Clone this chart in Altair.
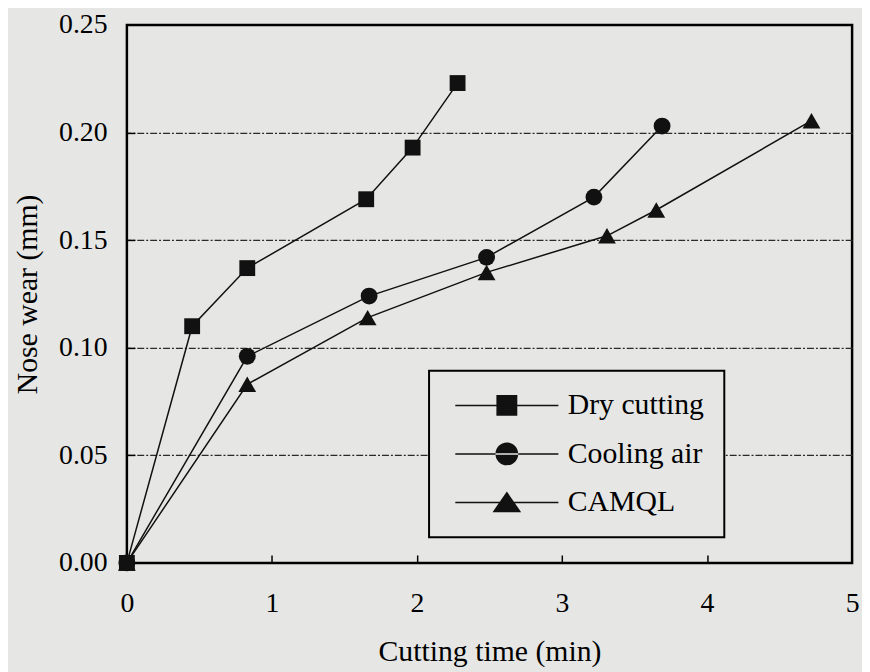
import altair as alt
import pandas as pd

# ---- data ----
legend_order = ["Dry cutting", "Cooling air", "CAMQL"]

dry_x = [0, 0.45, 0.83, 1.65, 1.97, 2.28]
dry_y = [0, 0.110, 0.137, 0.169, 0.193, 0.223]

air_x = [0, 0.83, 1.67, 2.48, 3.22, 3.69]
air_y = [0, 0.096, 0.124, 0.142, 0.170, 0.203]

camql_x = [0, 0.83, 1.66, 2.48, 3.31, 3.65, 4.72]
camql_y = [0, 0.083, 0.114, 0.135, 0.152, 0.164, 0.2055]

x_tick_values = [0, 1, 2, 3, 4, 5]
y_tick_values = [0, 0.05, 0.10, 0.15, 0.20, 0.25]
x_inner_ticks = [1, 2, 3, 4]
y_grid_values = [0.05, 0.10, 0.15, 0.20]

rows = []
for name, xs, ys in [("Cooling air", air_x, air_y),
                     ("CAMQL", camql_x, camql_y),
                     ("Dry cutting", dry_x, dry_y)]:
    for i, (a, b) in enumerate(zip(xs, ys)):
        rows.append({"series": name, "t": a, "wear": b, "idx": i})
df = pd.DataFrame(rows)

FONT = "Liberation Serif"
BG = "#e6e7e5"
W, H = 732, 543

xscale = alt.Scale(domain=[0, 5], nice=False, zero=False)
yscale = alt.Scale(domain=[0, 0.25], nice=False, zero=False)

main_x_axis = alt.Axis(values=x_tick_values, format="d", labelFlush=False,
                       ticks=False, domain=False, grid=False,
                       labelFont=FONT, labelFontSize=28, labelColor="black",
                       labelPadding=27, title="Cutting time (min)",
                       titleFont=FONT, titleFontSize=30, titleFontWeight="normal",
                       titleColor="black", titlePadding=20)
main_y_axis = alt.Axis(values=y_tick_values, format=".2f", labelFlush=False,
                       ticks=False, domain=False, grid=False,
                       labelFont=FONT, labelFontSize=28, labelColor="black",
                       labelPadding=20, title="Nose wear (mm)",
                       titleFont=FONT, titleFontSize=30, titleFontWeight="normal",
                       titleColor="black", titlePadding=16)

inner_x_axis = alt.Axis(orient="top", offset=-H, values=x_inner_ticks,
                        labels=False, domain=False, grid=False, ticks=True,
                        tickSize=8, tickWidth=1.5, tickColor="black", title=None)
inner_y_axis = alt.Axis(orient="right", offset=-W, values=y_grid_values,
                        labels=False, domain=False, grid=True, ticks=True,
                        tickSize=8, tickWidth=1.5, tickColor="black",
                        gridColor="#2a2a2a", gridWidth=1.2,
                        gridDash=[7, 2, 2, 2], title=None)

lines = alt.Chart(df).mark_line(color="#111111", strokeWidth=1.5).encode(
    x=alt.X("t:Q", scale=xscale, axis=main_x_axis),
    y=alt.Y("wear:Q", scale=yscale, axis=main_y_axis),
    detail="series:N",
    order="idx:Q",
)

points = alt.Chart(df).mark_point(filled=True, color="#111111", opacity=1).encode(
    x=alt.X("t:Q", scale=xscale, axis=inner_x_axis),
    y=alt.Y("wear:Q", scale=yscale, axis=inner_y_axis),
    shape=alt.Shape("series:N",
                    scale=alt.Scale(domain=legend_order,
                                    range=["square", "circle", "triangle-up"]),
                    legend=None),
    size=alt.Size("series:N",
                  scale=alt.Scale(domain=legend_order, range=[256, 324, 420]),
                  legend=None),
)

# legend symbols: thin bar (the line) plus marker, as filled custom paths
# (unit = sqrt(size)/2 = 8.5 px)
bar = "M-1,-0.09H11.24V0.09H-1Z"
sq_path = bar + "M3.88,-1.24H6.36V1.24H3.88Z"
ci_path = bar + "M3.77,0A1.35,1.35,0,1,0,6.47,0A1.35,1.35,0,1,0,3.77,0Z"
tr_path = bar + "M5.12,-1.3L6.82,1.15L3.42,1.15Z"

legend_layer = alt.Chart(df).mark_point(
    filled=True, color="#111111", opacity=0, size=289
).encode(
    x=alt.X("t:Q", scale=xscale, axis=None),
    y=alt.Y("wear:Q", scale=yscale, axis=None),
    shape=alt.Shape("series:N",
                    scale=alt.Scale(domain=legend_order,
                                    range=[sq_path, ci_path, tr_path]),
                    legend=alt.Legend(orient="none", legendX=305, legendY=349,
                                      title=None, padding=20,
                                      strokeColor="black", fillColor=BG,
                                      symbolSize=289, symbolStrokeWidth=0,
                                      symbolFillColor="#111111",
                                      symbolOpacity=1,
                                      labelFont=FONT, labelFontSize=30,
                                      labelColor="black", labelLimit=0,
                                      labelOffset=90, rowPadding=19)),
)

chart = alt.layer(lines, points, legend_layer).resolve_scale(
    shape="independent", size="independent"
).resolve_axis(
    x="independent", y="independent"
).properties(
    width=W, height=H,
    autosize=alt.AutoSizeParams(type="none"),
    padding={"left": 120, "top": 14, "right": 10, "bottom": 107},
    background=BG,
).configure_view(
    stroke="black", strokeWidth=2.5, fill=BG
).configure_legend(
    strokeWidth=2
)

chart.save("out.html", embed_options={"renderer": "svg", "actions": False})
